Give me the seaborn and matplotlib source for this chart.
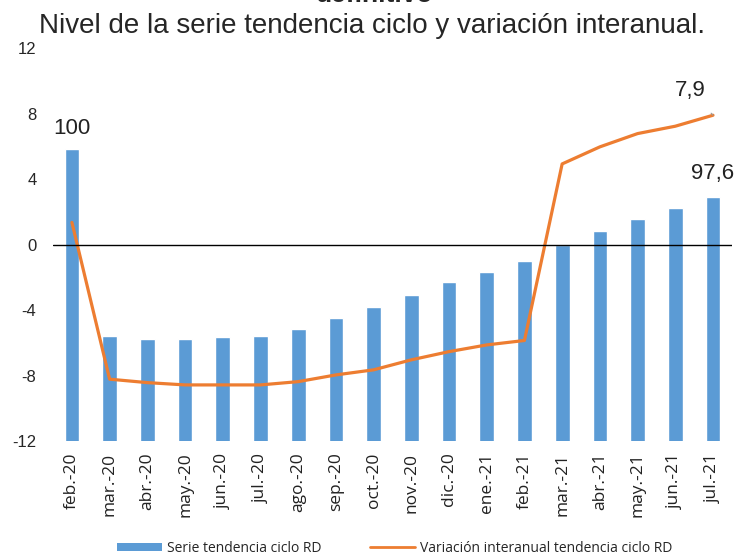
import numpy as np
import pandas as pd
import matplotlib
matplotlib.use("Agg")
import matplotlib.pyplot as plt
import seaborn as sns
from matplotlib.patches import Patch
from matplotlib.lines import Line2D

# Datos
meses = ["feb.-20", "mar.-20", "abr.-20", "may.-20", "jun.-20", "jul.-20",
         "ago.-20", "sep.-20", "oct.-20", "nov.-20", "dic.-20", "ene.-21",
         "feb.-21", "mar.-21", "abr.-21", "may.-21", "jun.-21", "jul.-21"]
serie_tc = [100.0, 90.6, 90.44, 90.44, 90.54, 90.63, 90.98, 91.51, 92.07,
            92.69, 93.31, 93.85, 94.38, 95.17, 95.89, 96.51, 97.07, 97.6]
var_interanual = [1.36, -8.2, -8.41, -8.55, -8.55, -8.55, -8.35, -7.94, -7.63,
                  -7.02, -6.52, -6.11, -5.84, 4.93, 5.97, 6.78, 7.23, 7.9]
y_ticks = [-12, -8, -4, 0, 4, 8, 12]

df = pd.DataFrame({"mes": meses, "serie": serie_tc, "var": var_interanual})

azul = "#5B9BD5"
naranja = "#ED7D31"

sns.set_style("white")
plt.rcParams["font.family"] = ["Liberation Sans", "DejaVu Sans"]
plt.rcParams["axes.unicode_minus"] = False

fig = plt.figure(figsize=(7.37, 5.57), dpi=100)
ax = fig.add_axes([0.072, 0.2074, 0.921, 0.7064])
ax_b = ax.twinx()

# Barras: serie tendencia ciclo (eje secundario oculto)
sns.barplot(data=df, x="mes", y="serie", color=azul, width=0.39,
            saturation=1, ax=ax_b)
ax_b.set_ylim(85.3, 105.1)
ax_b.set_yticks([])
ax_b.set_ylabel("")

# Línea: variación interanual
sns.lineplot(data=df, x="mes", y="var", color=naranja, linewidth=2.3,
             sort=False, ax=ax)
ax.axhline(0, color="black", linewidth=1)
ax.set_ylim(-12, 12)
ax.set_yticks(y_ticks)
ax.set_xlim(-0.5, len(meses) - 0.5)
ax.set_xlabel("")
ax.set_ylabel("")
ax.set_zorder(ax_b.get_zorder() + 1)
ax.patch.set_visible(False)

for a in (ax, ax_b):
    for s in a.spines.values():
        s.set_visible(False)

ax.tick_params(axis="y", length=0, pad=12, labelsize=12)
ax.tick_params(axis="x", length=0, pad=8)
ax_b.tick_params(length=0)
ax.set_xticks(range(len(meses)))
ax.set_xticklabels(meses, rotation=90, fontsize=12.5, family=["Open Sans"],
                   color="#222222")

def fmt(v):
    return f"{v:g}".replace(".", ",")

# Etiquetas de datos
ax_b.annotate(fmt(serie_tc[0]), (0, serie_tc[0]), xytext=(0, 21),
              textcoords="offset pixels", ha="center", va="center",
              fontsize=16, color="#222222")
n = len(meses) - 1
ax_b.annotate(fmt(serie_tc[-1]), (n, serie_tc[-1]), xytext=(0, 24),
              textcoords="offset pixels", ha="center", va="center",
              fontsize=16, color="#222222")
ax.annotate(fmt(var_interanual[-1]), (n, var_interanual[-1]), xytext=(-23, 25),
            textcoords="offset pixels", ha="center", va="center",
            fontsize=16, color="#222222",
            arrowprops=dict(arrowstyle="-", color="#999999", lw=0.8,
                            shrinkA=9, shrinkB=0))

# Títulos
fig.text(0.508, 1 - 2 / 557, "definitivo", ha="center", va="baseline",
         fontsize=19, fontweight="bold")
fig.text(0.505, 1 - 33 / 557, "Nivel de la serie tendencia ciclo y variación interanual.",
         ha="center", va="baseline", fontsize=20)

# Leyenda
handles = [Patch(facecolor=azul, edgecolor="none"),
           Line2D([0], [0], color=naranja, linewidth=2)]
fig.legend(handles, ["Serie tendencia ciclo RD", "Variación interanual tendencia ciclo RD"],
           loc="center", bbox_to_anchor=(0.536, 0.016), ncol=2, frameon=False,
           prop={"family": "Open Sans", "size": 10}, handlelength=3.2,
           handleheight=0.5, columnspacing=3.5, handletextpad=0.4)

fig.savefig("out.png", dpi=100)
